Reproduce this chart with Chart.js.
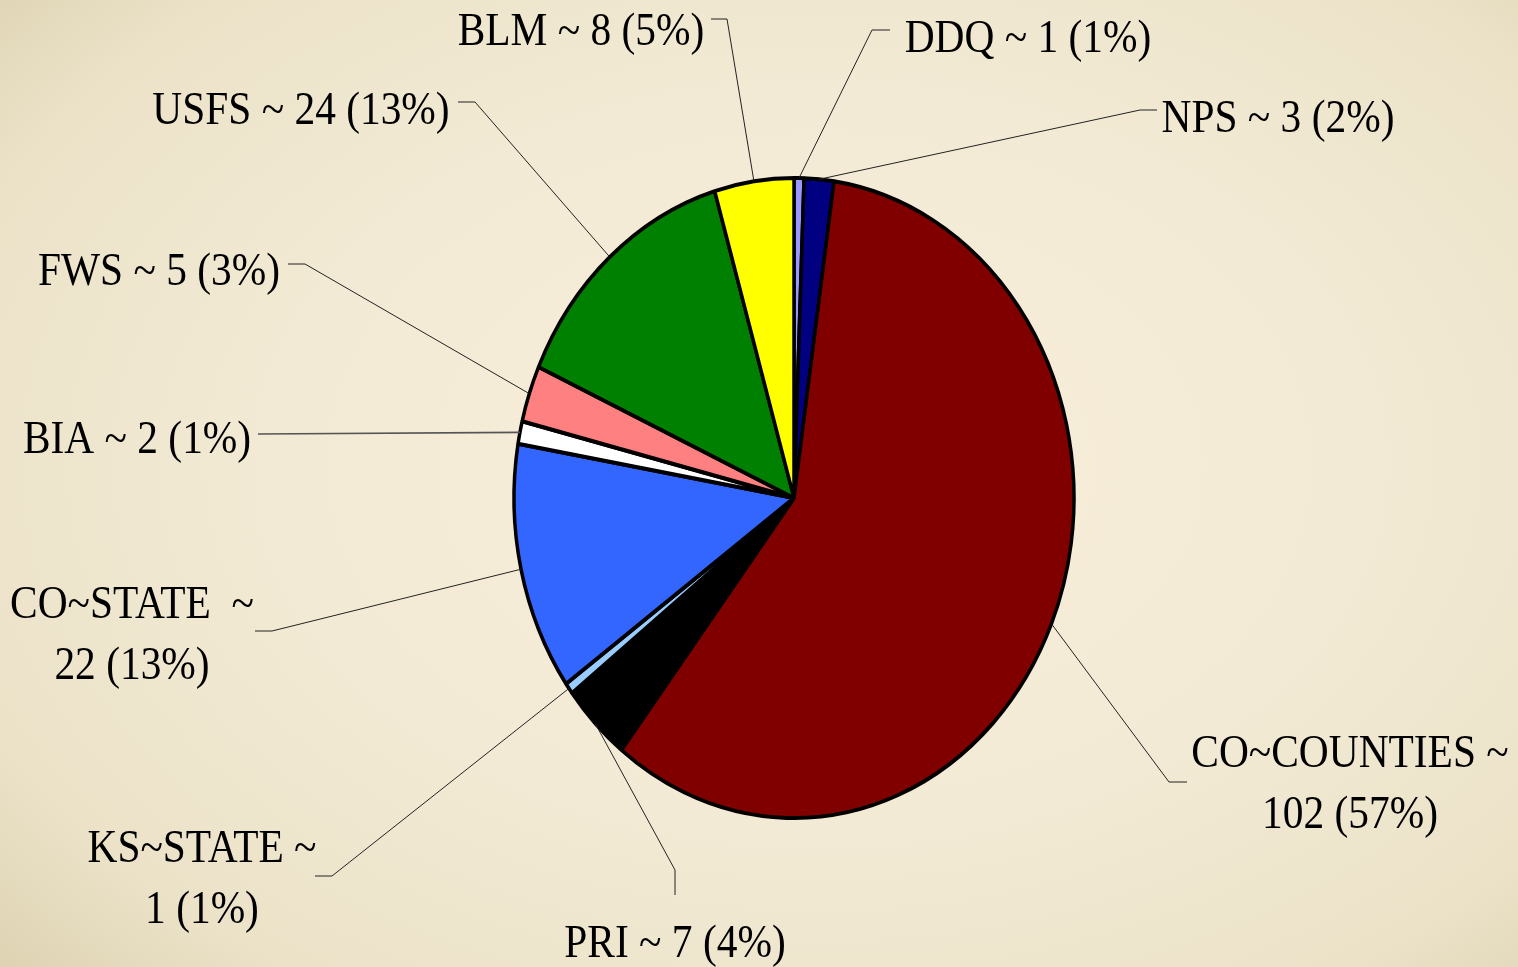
<!DOCTYPE html>
<html>
<head>
<meta charset="utf-8">
<script src="https://cdn.jsdelivr.net/npm/chart.js@4.4.1/dist/chart.umd.min.js"></script>
<style>
  html, body { margin: 0; padding: 0; width: 1518px; height: 967px; overflow: hidden; }
  body {
    background: radial-gradient(ellipse 80% 85% at 54% 48%, #f8eed9 0%, #f3ead5 45%, #ebe2c8 75%, #d7caa6 100%);
  }
  canvas { display: block; }
</style>
</head>
<body>
<canvas id="pieChart" width="1518" height="967"></canvas>
<script>
// slice data, clockwise from 12 o'clock
const agencies = ['DDQ', 'NPS', 'CO~COUNTIES', 'PRI', 'KS~STATE', 'CO~STATE', 'BIA', 'FWS', 'USFS', 'BLM'];
const counts = [1, 3, 102, 7, 1, 22, 2, 5, 24, 8];
const percents = [1, 2, 57, 4, 1, 13, 1, 3, 13, 5];
const sliceColors = ['#9999ff', '#000080', '#800000', '#000000', '#99ccff', '#3366ff', '#ffffff', '#ff8080', '#008000', '#ffff00'];

// where each callout sits (text centre, elbow of leader, end of stub)
const callouts = [
    { x: 1028, y: 37,  knee: [872, 30],   stub: [890, 30] },
    { x: 1278, y: 117, knee: [1140, 110], stub: [1157, 110] },
    { x: 1350, y: 782, knee: [1169, 782], stub: [1187, 782], wrap: ' ' },
    { x: 675,  y: 942, knee: [675, 870],  stub: [675, 895] },
    { x: 202,  y: 877, knee: [332, 876],  stub: [315, 876], wrap: ' ' },
    { x: 132,  y: 633, knee: [272, 631],  stub: [255, 631], wrap: '  ' },
    { x: 137,  y: 438, knee: [258, 434],  stub: [258, 434], grey: true },
    { x: 159,  y: 270, knee: [305, 264],  stub: [288, 264] },
    { x: 301,  y: 109, knee: [475, 102],  stub: [458, 102] },
    { x: 581,  y: 30,  knee: [727, 19],   stub: [711, 19] }
];

const STRETCH_Y = 320 / 280; // the pie in the picture is taller than wide
const FONT_PX = 46;
const TEXT_SQUEEZE = 0.9;

const ellipsePlugin = {
    id: 'ellipse',
    beforeDatasetsDraw(chart) {
        const arc = chart.getDatasetMeta(0).data[0];
        const ctx = chart.ctx;
        ctx.save();
        ctx.translate(arc.x, arc.y);
        ctx.scale(1, STRETCH_Y);
        ctx.translate(-arc.x, -arc.y);
    },
    afterDatasetsDraw(chart) {
        chart.ctx.restore();
    }
};

const calloutPlugin = {
    id: 'callouts',
    afterDraw(chart) {
        const ctx = chart.ctx;
        const meta = chart.getDatasetMeta(0);
        ctx.save();
        meta.data.forEach((arc, i) => {
            const c = callouts[i];
            const mid = (arc.startAngle + arc.endAngle) / 2;
            const ex = arc.x + Math.cos(mid) * arc.outerRadius;
            const ey = arc.y + Math.sin(mid) * arc.outerRadius * STRETCH_Y;

            ctx.beginPath();
            ctx.moveTo(ex, ey);
            ctx.lineTo(c.knee[0], c.knee[1]);
            ctx.lineTo(c.stub[0], c.stub[1]);
            ctx.strokeStyle = c.grey ? '#555' : '#222';
            ctx.lineWidth = c.grey ? 1.6 : 1;
            ctx.stroke();

            const tail = counts[i] + ' (' + percents[i] + '%)';
            const lines = c.wrap
                ? [agencies[i] + c.wrap + '~', tail]
                : [agencies[i] + ' ~ ' + tail];

            ctx.font = FONT_PX + 'px "Liberation Serif", "DejaVu Serif", serif';
            ctx.fillStyle = '#000';
            ctx.textAlign = 'center';
            ctx.textBaseline = 'alphabetic';
            const lineH = 61;
            const top = c.y - (lines.length - 1) * lineH / 2;
            lines.forEach((txt, k) => {
                ctx.save();
                ctx.translate(c.x, top + k * lineH + 15);
                ctx.scale(TEXT_SQUEEZE, 1);
                ctx.fillText(txt, 0, 0);
                ctx.restore();
            });
        });
        ctx.restore();
    }
};

const ctx = document.getElementById('pieChart').getContext('2d');
const myChart = new Chart(ctx, {
    type: 'pie',
    data: {
        labels: agencies,
        datasets: [{
            data: counts,
            backgroundColor: sliceColors,
            borderColor: '#000',
            borderWidth: 3.5,
            radius: 280
        }]
    },
    options: {
        responsive: false,
        animation: false,
        devicePixelRatio: 1,
        layout: {
            padding: { left: 514, right: 444, top: 178, bottom: 149 }
        },
        plugins: {
            legend: { display: false },
            tooltip: { enabled: false }
        }
    },
    plugins: [ellipsePlugin, calloutPlugin]
});
</script>
</body>
</html>
